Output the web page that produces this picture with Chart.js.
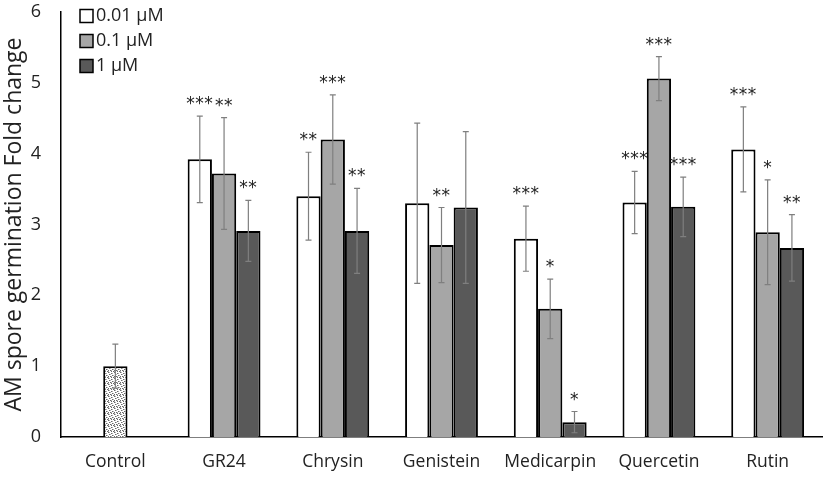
<!DOCTYPE html>
<html>
<head>
<meta charset="utf-8">
<script src="https://cdn.jsdelivr.net/npm/chart.js@4.4.1/dist/chart.umd.min.js"></script>
<style>
  html, body { margin: 0; padding: 0; background: #fff; }
  #wrap { width: 827px; height: 478px; }
</style>
</head>
<body>
<div id="wrap"><canvas id="chart"></canvas></div>
<script>
const categories = ['Control', 'GR24', 'Chrysin', 'Genistein', 'Medicarpin', 'Quercetin', 'Rutin'];

const controlValues = [1.00, null, null, null, null, null, null];
const controlErrors = [0.31, null, null, null, null, null, null];

const lowValues = [null, 3.92, 3.40, 3.30, 2.80, 3.31, 4.06];   // 0.01 µM
const lowErrors = [null, 0.61, 0.62, 1.13, 0.46, 0.44, 0.60];
const lowSig = ['', '***', '**', '', '***', '***', '***'];

const midValues = [null, 3.72, 4.20, 2.71, 1.81, 5.06, 2.89];   // 0.1 µM
const midErrors = [null, 0.79, 0.63, 0.53, 0.42, 0.31, 0.74];
const midSig = ['', '**', '***', '**', '*', '***', '*'];

const highValues = [null, 2.91, 2.91, 3.24, 0.21, 3.25, 2.67];  // 1 µM
const highErrors = [null, 0.43, 0.60, 1.07, 0.15, 0.42, 0.47];
const highSig = ['', '**', '**', '', '*', '***', '**'];

const legendLabels = ['0.01 µM', '0.1 µM', '1 µM'];
const yTicks = [0, 1, 2, 3, 4, 5, 6];

const lowColor = '#ffffff';
const midColor = '#a6a6a6';
const highColor = '#595959';

// speckled fill for the control bar
function makeSpeckle() {
    const c = document.createElement('canvas');
    c.width = 6; c.height = 6;
    const g = c.getContext('2d');
    g.fillStyle = '#ffffff';
    g.fillRect(0, 0, 6, 6);
    g.fillStyle = '#6a6a6a';
    [[0,0],[3,1],[1,2],[4,3],[2,4],[5,5],[0,4],[3,5]].forEach(p => g.fillRect(p[0], p[1], 1, 1));
    g.fillStyle = '#b0b0b0';
    [[1,0],[4,1],[2,2],[5,3],[3,4],[0,5]].forEach(p => g.fillRect(p[0], p[1], 1, 1));
    return g.createPattern(c, 'repeat');
}

const errorBars = {
    id: 'errorBars',
    afterDatasetsDraw(chart) {
        const ctx = chart.ctx;
        const yScale = chart.scales.y;
        chart.data.datasets.forEach((ds, i) => {
            const meta = chart.getDatasetMeta(i);
            meta.data.forEach((bar, j) => {
                const v = ds.data[j];
                const e = ds.errors[j];
                if (v == null || e == null) return;
                const x = bar.x;
                const yTop = yScale.getPixelForValue(v + e);
                const yBot = yScale.getPixelForValue(v - e);
                ctx.save();
                ctx.strokeStyle = '#7f7f7f';
                ctx.lineWidth = 1.2;
                ctx.beginPath();
                ctx.moveTo(x, yTop); ctx.lineTo(x, yBot);
                ctx.moveTo(x - 3, yTop); ctx.lineTo(x + 3, yTop);
                ctx.moveTo(x - 3, yBot); ctx.lineTo(x + 3, yBot);
                ctx.stroke();
                const s = ds.sig ? ds.sig[j] : '';
                if (s) {
                    ctx.fillStyle = '#222';
                    ctx.font = '17px "DejaVu Sans"';
                    ctx.letterSpacing = '0.5px';
                    ctx.textAlign = 'center';
                    ctx.textBaseline = 'alphabetic';
                    ctx.fillText(s, x, yTop - 7);
                }
                ctx.restore();
            });
        });
    }
};

const boxLegend = {
    id: 'boxLegend',
    afterDraw(chart) {
        const ctx = chart.ctx;
        const area = chart.chartArea;
        const fills = [lowColor, midColor, highColor];
        ctx.save();
        legendLabels.forEach((txt, i) => {
            const x = area.left + 19;
            const y = area.top + 4 + i * 25;
            ctx.fillStyle = fills[i];
            ctx.fillRect(x, y - 6.5, 13, 13);
            ctx.strokeStyle = '#000';
            ctx.lineWidth = 1.5;
            ctx.strokeRect(x, y - 6.5, 13, 13);
            ctx.fillStyle = '#222';
            ctx.font = '18px "Open Sans"';
            ctx.textAlign = 'left';
            ctx.textBaseline = 'middle';
            ctx.fillText(txt, x + 16, y);
        });
        ctx.restore();
    }
};

new Chart(document.getElementById('chart'), {
    type: 'bar',
    data: {
        labels: categories,
        datasets: [
            {
                label: 'Control',
                data: controlValues,
                errors: controlErrors,
                backgroundColor: makeSpeckle(),
                borderColor: '#000',
                borderWidth: 2,
                grouped: false,
                categoryPercentage: 0.67,
                barPercentage: 1 / 3
            },
            {
                label: legendLabels[0],
                data: lowValues,
                errors: lowErrors,
                sig: lowSig,
                backgroundColor: lowColor,
                borderColor: '#000',
                borderWidth: 2
            },
            {
                label: legendLabels[1],
                data: midValues,
                errors: midErrors,
                sig: midSig,
                backgroundColor: midColor,
                borderColor: '#000',
                borderWidth: 2
            },
            {
                label: legendLabels[2],
                data: highValues,
                errors: highErrors,
                sig: highSig,
                backgroundColor: highColor,
                borderColor: '#000',
                borderWidth: 2
            }
        ]
    },
    options: {
        responsive: true,
        maintainAspectRatio: false,
        animation: false,
        categoryPercentage: 0.67,
        barPercentage: 1,
        layout: { padding: { top: 12, right: 5, left: 0, bottom: 0 } },
        plugins: {
            legend: { display: false },
            tooltip: { enabled: false }
        },
        scales: {
            x: {
                grid: { display: false, drawTicks: false },
                border: { display: true, color: '#000', width: 1.5 },
                ticks: { color: '#222', font: { family: 'Open Sans', size: 17.5 }, padding: 15 },
                afterFit: (s) => { s.height = 41; }
            },
            y: {
                min: 0,
                max: 6,
                afterBuildTicks: (s) => { s.ticks = yTicks.map(v => ({ value: v })); },
                grid: { display: false, drawTicks: false },
                border: { display: true, color: '#000', width: 1.5 },
                ticks: { color: '#222', font: { family: 'Open Sans', size: 18 }, padding: 20 },
                title: {
                    display: true,
                    text: 'AM spore germination Fold change',
                    color: '#222',
                    font: { family: 'Open Sans', size: 23 },
                    padding: { top: 1, bottom: 0 }
                },
                afterFit: (s) => {
                    s.width = 61;
                    s.paddingTop = 0;
                    s.paddingBottom = 0;
                }
            }
        }
    },
    plugins: [errorBars, boxLegend]
});
</script>
</body>
</html>
